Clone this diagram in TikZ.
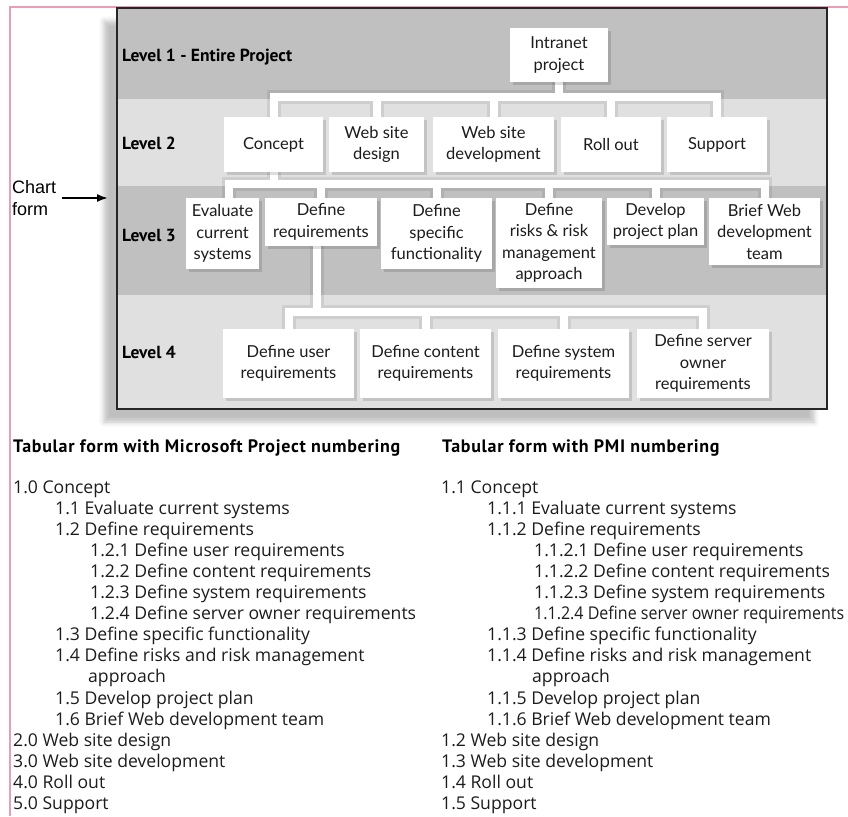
\documentclass[tikz,border=0pt]{standalone}
\usepackage{fontspec}
\usepackage{graphicx}
\setmainfont{Lato}
\newfontfamily\headfont{PT Sans}
\newfontfamily\tabheadfont{PT Sans}[LetterSpace=4]
\newfontfamily\listfont{Open Sans}
\newfontfamily\chartfont{Liberation Sans}
\usetikzlibrary{shadows,shadows.blur,arrows.meta}
\pgfdeclarelayer{bands}
\pgfdeclarelayer{links}
\pgfsetlayers{bands,links,main}
\definecolor{banddark}{RGB}{192,192,192}
\definecolor{bandlight}{RGB}{224,224,224}
\definecolor{pinkrule}{RGB}{234,156,184}
\definecolor{inktext}{RGB}{28,28,28}
\tikzset{
  wbsbox/.style={fill=white, inner sep=0pt, align=center, text=inktext,
    font=\fontsize{16.5}{21.5}\selectfont,
    drop shadow={shadow xshift=3pt, shadow yshift=-3pt, opacity=0.13, fill=black}},
  levellabel/.style={anchor=base west, inner sep=0pt,
    font=\headfont\bfseries\fontsize{17.5}{20}\selectfont},
  tabhead/.style={anchor=base west, inner sep=0pt,
    font=\tabheadfont\bfseries\fontsize{18}{20}\selectfont},
  listline/.style={anchor=base west, inner sep=0pt, text=inktext,
    font=\listfont\fontsize{17.6}{21}\selectfont},
  linkshade/.style={line width=14pt, draw=black, draw opacity=0.08, line cap=rect},
  link/.style={line width=8pt, draw=white, line cap=rect},
  chartlabel/.style={anchor=base west, inner sep=0pt,
    font=\chartfont\fontsize{18}{22}\selectfont},
}
\begin{document}
\begin{tikzpicture}[x=1pt, y=-1pt]
\path[use as bounding box] (0,0) rectangle (848,816);
\clip (0,0) rectangle (848,816);

% page rule
\draw[pinkrule, line width=1.6pt] (10,816) -- (10,7) -- (848,7);

% chart panel with its soft shadow and level bands
\begin{pgfonlayer}{bands}
\path[fill=white, blur shadow={shadow xshift=-13pt, shadow yshift=-13pt,
  shadow blur radius=5pt, shadow opacity=25}] (117,8) rectangle (827,409);
\fill[banddark]  (117,8)   rectangle (827,99);
\fill[bandlight] (117,99)  rectangle (827,186);
\fill[banddark]  (117,186) rectangle (827,295);
\fill[bandlight] (117,295) rectangle (827,409);
\end{pgfonlayer}

% work package boxes
\node[wbsbox, minimum width=98pt, minimum height=54pt] (intranet) at (559,55) {Intranet\\project};

\node[wbsbox, minimum width=99pt,  minimum height=55pt] (concept) at (273.5,144.5) {Concept};
\node[wbsbox, minimum width=95pt,  minimum height=55pt] (design)  at (376.5,144.5) {Web site\\design};
\node[wbsbox, minimum width=121pt, minimum height=55pt] (devel)   at (493.5,144.5) {Web site\\development};
\node[wbsbox, minimum width=100pt, minimum height=55pt] (rollout) at (611,144.5)   {Roll out};
\node[wbsbox, minimum width=100pt, minimum height=55pt] (support) at (717,144.5)   {Support};

\node[wbsbox, minimum width=73pt,  minimum height=71pt] (evaluate) at (222.5,233.5) {Evaluate\\current\\systems};
\node[wbsbox, minimum width=112pt, minimum height=48pt] (defreq)   at (321,222)     {Define\\requirements};
\node[wbsbox, minimum width=111pt, minimum height=71pt] (specific) at (436.5,233.5) {Define\\specific\\functionality};
\node[wbsbox, minimum width=106pt, minimum height=90pt] (risks)    at (549,243)     {Define\\risks \& risk\\management\\approach};
\node[wbsbox, minimum width=97pt,  minimum height=47pt] (plan)     at (655.5,221.5) {Develop\\project plan};
\node[wbsbox, minimum width=111pt, minimum height=67pt] (brief)    at (764.5,231.5) {Brief Web\\development\\team};

\node[wbsbox, minimum width=131pt, minimum height=69pt] (user)    at (288.5,363.5) {Define user\\requirements};
\node[wbsbox, minimum width=131pt, minimum height=69pt] (content) at (425.5,363.5) {Define content\\requirements};
\node[wbsbox, minimum width=131pt, minimum height=69pt] (system)  at (563.5,363.5) {Define system\\requirements};
\node[wbsbox, minimum width=132pt, minimum height=69pt] (server)  at (703,363.5)   {Define server\\owner\\requirements};

% connector rails
\coordinate (railA) at (0,97);
\coordinate (railB) at (0,184);
\coordinate (railC) at (0,312);
\coordinate (evaldrop) at ([xshift=6.5pt]evaluate.north);
\coordinate (reqdrop) at ([xshift=-4pt]defreq.south);

\begin{pgfonlayer}{links}
% level 1 -> level 2
\foreach \style in {linkshade,link}{
  \draw[\style] (intranet.south) -- (intranet.south |- railA)
    (concept.north |- railA) -- (support.north |- railA)
    (concept.north |- railA) -- (concept.north)
    (design.north |- railA)  -- (design.north)
    (devel.north |- railA)   -- (devel.north)
    (rollout.north |- railA) -- (rollout.north)
    (support.north |- railA) -- (support.north);
}
% level 2 -> level 3
\foreach \style in {linkshade,link}{
  \draw[\style] (concept.south) -- (concept.south |- railB)
    (evaldrop |- railB) -- (brief.north |- railB)
    (evaldrop |- railB)       -- (evaldrop)
    (defreq.north |- railB)   -- (defreq.north)
    (specific.north |- railB) -- (specific.north)
    (risks.north |- railB)    -- (risks.north)
    (plan.north |- railB)     -- (plan.north)
    (brief.north |- railB)    -- (brief.north);
}
% level 3 -> level 4
\foreach \style in {linkshade,link}{
  \draw[\style] (reqdrop) -- (reqdrop |- railC)
    (user.north |- railC) -- (server.north |- railC)
    (user.north |- railC)    -- (user.north)
    (content.north |- railC) -- (content.north)
    (system.north |- railC)  -- (system.north)
    (server.north |- railC)  -- (server.north);
}
\end{pgfonlayer}

% panel frame
\draw[line width=1.2pt, black!85] (117,8) rectangle (827,409);

% level labels
\node[levellabel] (lv1) at (122,62)  {Level 1 - Entire Project};
\node[levellabel] (lv2) at (122,149) {Level 2};
\node[levellabel] (lv3) at (122,241) {Level 3};
\node[levellabel] (lv4) at (122,358) {Level 4};

% chart form pointer
\node[chartlabel] (chartword) at (12,193) {Chart};
\node[chartlabel] (formword)  at (12,215) {form};
\coordinate (pointtail) at (62,198);
\coordinate (pointhead) at (108,198);
\draw[line width=1.8pt, -{Latex[length=11pt, width=8pt]}] (pointtail) -- (pointhead);

% tabular forms
\node[tabhead] (mshead)  at (13,452)  {Tabular form with Microsoft Project numbering};
\node[tabhead] (pmihead) at (442,452) {Tabular form with PMI numbering};

\foreach \x/\t [count=\i] in {
  13/1.0 Concept, 55/1.1 Evaluate current systems, 55/1.2 Define requirements,
  90/1.2.1 Define user requirements, 90/1.2.2 Define content requirements,
  90/1.2.3 Define system requirements, 90/1.2.4 Define server owner requirements,
  55/1.3 Define specific functionality, 55/1.4 Define risks and risk management,
  88/approach, 55/1.5 Develop project plan, 55/1.6 Brief Web development team,
  13/2.0 Web site design, 13/3.0 Web site development, 13/4.0 Roll out, 13/5.0 Support}{
  \node[listline] (ms\i) at (\x,493+21.1*\i-21.1) {\t};
}
\foreach \x/\t [count=\i] in {
  441/1.1 Concept, 487/1.1.1 Evaluate current systems, 487/1.1.2 Define requirements,
  534/1.1.2.1 Define user requirements, 534/1.1.2.2 Define content requirements,
  534/1.1.2.3 Define system requirements,
  534/{\resizebox{310pt}{\height}{1.1.2.4 Define server owner requirements}},
  487/1.1.3 Define specific functionality, 487/1.1.4 Define risks and risk management,
  532/approach, 487/1.1.5 Develop project plan, 487/1.1.6 Brief Web development team,
  441/1.2 Web site design, 441/1.3 Web site development, 441/1.4 Roll out, 441/1.5 Support}{
  \node[listline] (pmi\i) at (\x,493+21.1*\i-21.1) {\t};
}
\end{tikzpicture}
\end{document}
